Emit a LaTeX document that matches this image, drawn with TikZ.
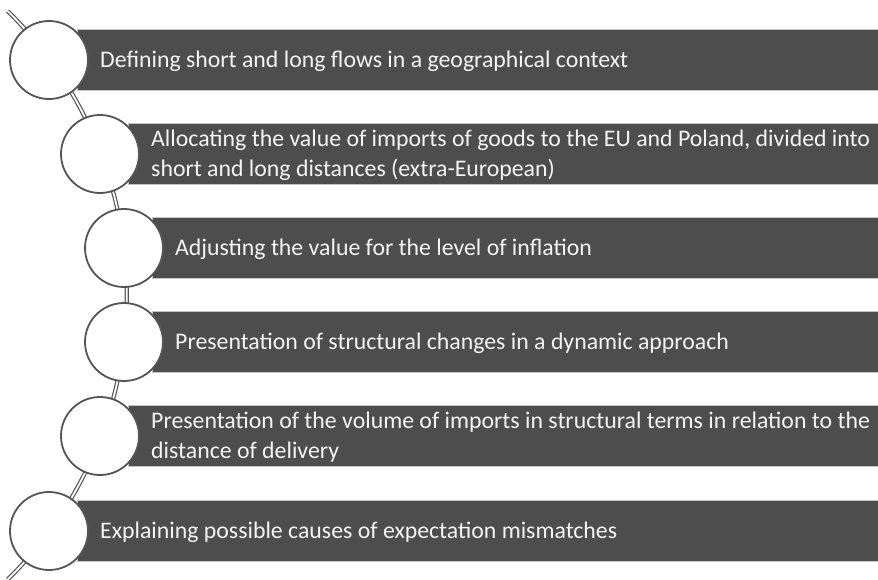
\documentclass[tikz,border=0pt]{standalone}
\usepackage{fontspec}
\setmainfont{Carlito}
\usetikzlibrary{positioning}
\definecolor{barfill}{HTML}{4D4D4D}
\definecolor{baredge}{HTML}{C4C4C4}
\definecolor{ringline}{HTML}{555555}
\definecolor{barink}{HTML}{F4F4F4}
\tikzset{
  bar/.style     = {fill=barfill,draw=baredge,line width=0.8pt,
                    minimum height=61pt,inner sep=0pt,anchor=west},
  bartext/.style = {text=barink,align=left,inner sep=0pt,anchor=west,
                    font=\fontsize{23.8}{30}\selectfont},
  ring/.style    = {circle,draw=ringline,fill=white,line width=1.8pt,
                    minimum size=78pt,inner sep=0pt},
  spine/.style   = {draw=ringline,line width=1.2pt,double=white,
                    double distance=1.8pt},
}

\begin{document}
\begin{tikzpicture}[x=1pt,y=-1pt]
    \useasboundingbox (0,0) rectangle (878,579);
    % backbone arc through the circle centres
    \coordinate (spinetop) at (7.6,11);
    \draw[spine] (spinetop) arc[start angle=-45.5,end angle=45.5,radius=398.6];
    \foreach \i/\cx/\cy/\txt in {
      1/49/60/{Defining short and long flows in a geographical context},
      2/100/154/{Allocating the value of imports of goods to the EU and Poland, divided into\\short and long distances (extra-European)},
      3/124/248/{Adjusting the value for the level of inflation},
      4/124/342/{Presentation of structural changes in a dynamic approach},
      5/100/436/{Presentation of the volume of imports in structural terms in relation to the\\distance of delivery},
      6/49/531/{Explaining possible causes of expectation mismatches}}{
      \pgfmathsetmacro{\w}{860-\cx}
      \node[bar,minimum width=\w pt] (b\i) at (\cx+28,\cy) {};
      \node[bartext] (t\i) at (\cx+51,\cy+1.5) {\txt};
      \node[ring] (c\i) at (\cx,\cy) {};
    }
  \end{tikzpicture}
\end{document}
